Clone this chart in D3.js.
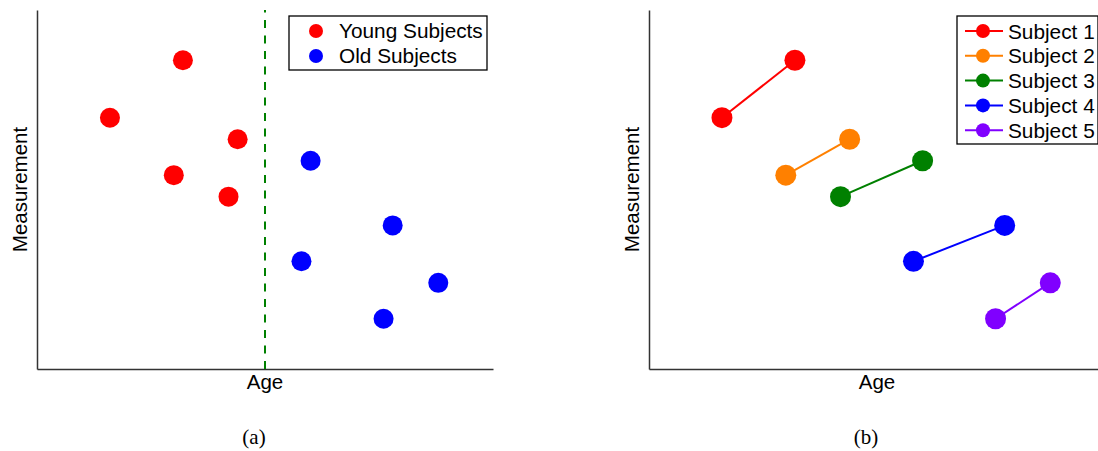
<!DOCTYPE html>
<html>
<head>
<meta charset="utf-8">
<script src="https://cdn.jsdelivr.net/npm/d3@7"></script>
<style>
    body { margin: 0; background: #fff; }
    text { font-family: "Liberation Sans", Arial, sans-serif; }
    .caption { font-family: "Liberation Serif", "DejaVu Serif", serif; }
</style>
</head>
<body>
<div id="chart-container"></div>
<script>
// each subject measured twice, at a younger and an older age
const subjects = ["Subject 1", "Subject 2", "Subject 3", "Subject 4", "Subject 5"];
const subjectColors = ["#ff0000", "#ff8000", "#008000", "#0000ff", "#8000ff"];
const ageFirst = [1.6, 3.0, 4.2, 5.8, 7.6];
const measFirst = [7.0, 5.4, 4.8, 3.0, 1.4];
const ageSecond = [3.2, 4.4, 6.0, 7.8, 8.8];
const measSecond = [8.6, 6.4, 5.8, 4.0, 2.4];

// age split used in panel (a)
const ageCutoff = 5.0;
const groupLabels = ["Young Subjects", "Old Subjects"];
const groupColors = ["#ff0000", "#0000ff"];

const captions = ["(a)", "(b)"];

var W = 1098, H = 451;
var svg = d3.select("#chart-container")
    .append("svg")
    .attr("width", W)
    .attr("height", H);

function build_axes(left) {
    // both panels share the same plot size
    var margin = { top: 10, left: left },
        width = 456,
        height = 359;

    var xScale = d3.scaleLinear().domain([0, 10]).range([0, width]);
    var yScale = d3.scaleLinear().domain([0, 10]).range([height, 0]);

    var g = svg.append("g")
        .attr("transform", `translate(${margin.left},${margin.top})`);

    // spines only, no ticks
    g.append("g")
        .attr("transform", `translate(0, ${height})`)
        .call(d3.axisBottom(xScale).tickValues([]).tickSizeOuter(0))
        .call(a => a.select(".domain").attr("stroke", "#333").attr("stroke-width", 1.5));
    g.append("g")
        .call(d3.axisLeft(yScale).tickValues([]).tickSizeOuter(0))
        .call(a => a.select(".domain").attr("stroke", "#333").attr("stroke-width", 1.5));

    g.append("text")
        .attr("x", width / 2)
        .attr("y", height + 20)
        .attr("text-anchor", "middle")
        .style("font-size", "20.5px")
        .text("Age");

    g.append("text")
        .attr("transform", "rotate(-90)")
        .attr("x", -height / 2)
        .attr("y", -10)
        .attr("text-anchor", "middle")
        .style("font-size", "20.5px")
        .text("Measurement");

    return { g: g, x: xScale, y: yScale, width: width, height: height };
}

function create_chart_a() {
    var ax = build_axes(37);

    // pool both visits and split them by age
    var points = [];
    for (var i = 0; i < subjects.length; i++) {
        points.push({ age: ageFirst[i], meas: measFirst[i] });
        points.push({ age: ageSecond[i], meas: measSecond[i] });
    }

    ax.g.append("line")
        .attr("x1", ax.x(ageCutoff))
        .attr("x2", ax.x(ageCutoff))
        .attr("y1", ax.height)
        .attr("y2", 0)
        .attr("stroke", "#008000")
        .attr("stroke-width", 2)
        .attr("stroke-dasharray", "8,7.5");

    ax.g.selectAll("circle.pt")
        .data(points)
        .enter()
        .append("circle")
        .attr("class", "pt")
        .attr("cx", d => ax.x(d.age))
        .attr("cy", d => ax.y(d.meas))
        .attr("r", 10)
        .attr("fill", d => d.age < ageCutoff ? groupColors[0] : groupColors[1]);

    // legend
    var lg = svg.append("g").attr("transform", "translate(289,16)");
    lg.append("rect")
        .attr("width", 198).attr("height", 54)
        .attr("fill", "#fff").attr("stroke", "#000").attr("stroke-width", 1.3);
    groupLabels.forEach(function(lab, i) {
        lg.append("circle")
            .attr("cx", 27).attr("cy", 15 + i * 25)
            .attr("r", 7).attr("fill", groupColors[i]);
        lg.append("text")
            .attr("x", 50).attr("y", 22 + i * 25)
            .style("font-size", "20.8px")
            .text(lab);
    });

    svg.append("text")
        .attr("class", "caption")
        .attr("x", 254).attr("y", 444)
        .attr("text-anchor", "middle")
        .style("font-size", "21px")
        .text(captions[0]);
}

function create_chart_b() {
    var ax = build_axes(649);

    var pairs = subjects.map((s, i) => ({
        name: s,
        color: subjectColors[i],
        pts: [{ age: ageFirst[i], meas: measFirst[i] }, { age: ageSecond[i], meas: measSecond[i] }]
    }));

    var line = d3.line().x(d => ax.x(d.age)).y(d => ax.y(d.meas));

    var sg = ax.g.selectAll("g.subject")
        .data(pairs)
        .enter()
        .append("g")
        .attr("class", "subject");
    sg.append("path")
        .attr("d", d => line(d.pts))
        .attr("fill", "none")
        .attr("stroke", d => d.color)
        .attr("stroke-width", 2);
    sg.selectAll("circle")
        .data(d => d.pts.map(p => ({ age: p.age, meas: p.meas, color: d.color })))
        .enter()
        .append("circle")
        .attr("cx", d => ax.x(d.age))
        .attr("cy", d => ax.y(d.meas))
        .attr("r", 10.5)
        .attr("fill", d => d.color);

    // legend
    var lg = svg.append("g").attr("transform", "translate(957,16)");
    lg.append("rect")
        .attr("width", 141).attr("height", 128)
        .attr("fill", "#fff").attr("stroke", "#000").attr("stroke-width", 1.3);
    subjects.forEach(function(s, i) {
        var cy = 15 + i * 24.8;
        lg.append("line")
            .attr("x1", 8).attr("x2", 46)
            .attr("y1", cy).attr("y2", cy)
            .attr("stroke", subjectColors[i]).attr("stroke-width", 2);
        lg.append("circle")
            .attr("cx", 26).attr("cy", cy)
            .attr("r", 7).attr("fill", subjectColors[i]);
        lg.append("text")
            .attr("x", 51).attr("y", cy + 7.5)
            .style("font-size", "20.8px")
            .text(s);
    });

    svg.append("text")
        .attr("class", "caption")
        .attr("x", 866).attr("y", 444)
        .attr("text-anchor", "middle")
        .style("font-size", "21px")
        .text(captions[1]);
}

create_chart_a();
create_chart_b();
</script>
</body>
</html>
